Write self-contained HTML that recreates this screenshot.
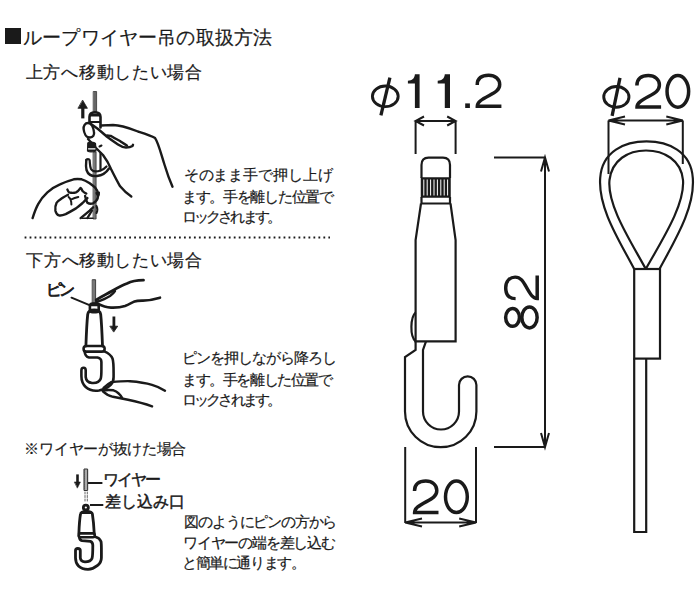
<!DOCTYPE html>
<html><head><meta charset="utf-8">
<style>
html,body{margin:0;padding:0;background:#fff;}
body{width:700px;height:600px;position:relative;overflow:hidden;font-family:"Liberation Sans",sans-serif;color:#1a1a1a;}
.t{position:absolute;white-space:nowrap;line-height:1;-webkit-text-stroke:0.2px #1a1a1a;}
.n{position:absolute;white-space:nowrap;line-height:1;font-family:"Liberation Sans",sans-serif;color:#1a1a1a;}
svg{position:absolute;left:0;top:0;}
</style></head><body>
<div style="position:absolute;left:5px;top:28px;width:16px;height:16px;background:#1a1a1a"></div>
<div class="t" style="left:23.0px;top:29.0px;font-size:18.6px;letter-spacing:0.17px">ループワイヤー吊の取扱方法</div>
<div class="t" style="left:25.8px;top:64.0px;font-size:17.2px;letter-spacing:0.69px">上方へ移動したい場合</div>
<div class="t" style="left:183.7px;top:168.2px;font-size:14.8px;letter-spacing:-0.11px">そのまま手で押し上げ</div>
<div class="t" style="left:182.1px;top:189.7px;font-size:14.8px;letter-spacing:-1.32px">ます。手を離した位置で</div>
<div class="t" style="left:182.0px;top:210.3px;font-size:14.8px;letter-spacing:-2.9px">ロックされます。</div>
<div class="t" style="left:26.3px;top:252.0px;font-size:17.2px;letter-spacing:0.63px">下方へ移動したい場合</div>
<div class="t" style="left:46px;top:281.5px;font-size:16px;letter-spacing:-2.8px;-webkit-text-stroke:0.8px #1a1a1a">ピン</div>
<div class="t" style="left:181.7px;top:351.0px;font-size:14.8px;letter-spacing:-0.97px">ピンを押しながら降ろし</div>
<div class="t" style="left:182.0px;top:372.9px;font-size:14.8px;letter-spacing:-1.39px">ます。手を離した位置で</div>
<div class="t" style="left:182.0px;top:393.0px;font-size:14.8px;letter-spacing:-2.86px">ロックされます。</div>
<div class="t" style="left:24.4px;top:442.3px;font-size:14.8px;letter-spacing:-0.29px">※ワイヤーが抜けた場合</div>
<div class="t" style="left:102.6px;top:472.4px;font-size:15.5px;letter-spacing:-1.73px;-webkit-text-stroke:0.45px #1a1a1a">ワイヤー</div>
<div class="t" style="left:105.4px;top:494.0px;font-size:15.5px;letter-spacing:-0.18px;-webkit-text-stroke:0.45px #1a1a1a">差し込み口</div>
<div class="t" style="left:184.2px;top:514.9px;font-size:14.8px;letter-spacing:-1.17px">図のようにピンの方から</div>
<div class="t" style="left:183.0px;top:536.1px;font-size:14.8px;letter-spacing:-1.19px">ワイヤーの端を差し込む</div>
<div class="t" style="left:182.0px;top:556.0px;font-size:14.8px;letter-spacing:-1.4px">と簡単に通ります。</div>
<svg width="700" height="600" viewBox="0 0 700 600">
<g fill="none" stroke="#1a1a1a" stroke-width="2.2" stroke-linejoin="miter">
<line x1="24.6" y1="237.5" x2="330" y2="237.5" stroke-width="1.8" stroke-dasharray="1.8 3.18"/>
<!-- phi symbols -->
<ellipse cx="385.3" cy="96.3" rx="12.9" ry="10.3" stroke-width="2.9"/>
<line x1="389.9" y1="77.7" x2="380.9" y2="115.4" stroke-width="3.3"/>
<ellipse cx="616.35" cy="96.9" rx="12.6" ry="10.4" stroke-width="2.9"/>
<line x1="620" y1="77.9" x2="612.1" y2="115.8" stroke-width="3.3"/>
<!-- dim 11.2 -->
<path d="M415.6,154 V121 M455.6,154 V121 M415.6,121 H455.6 M424,116.5 L415.6,121 L424,125.5 M447.2,116.5 L455.6,121 L447.2,125.5" stroke-width="2"/>
<!-- dim 82 -->
<path d="M494,157.5 H545.5 M494,447 H545.5 M545,157.5 V447 M541,171.5 L545,157.5 L549,171.5 M541,433 L545,447 L549,433" stroke-width="2"/>
<!-- dim 20 bottom -->
<path d="M405.2,447 V523 M476,447 V523 M405.2,522.5 H476 M422,518.5 L405.2,522.5 L422,526.5 M459.2,518.5 L476,522.5 L459.2,526.5" stroke-width="2"/>
<!-- dim 20 top -->
<path d="M608.5,174 V120.5 M682.8,164 V120.5 M608.5,120.5 H682.8 M625,116.5 L608.5,120.5 L625,124.5 M666.3,116.5 L682.8,120.5 L666.3,124.5" stroke-width="2"/>
<!-- main hook -->
<path d="M421.5,178 V165 C421.5,160 424,157.6 428.5,157.6 H443 C447.5,157.6 450,160 450,165 V178"/>
<rect x="421.5" y="178" width="28.5" height="19" fill="#1a1a1a" stroke-width="1.5"/>
<path d="M423.8,179.5 V195.5 M427.2,179.5 V195.5 M430.6,179.5 V195.5 M434,179.5 V195.5 M437.4,179.5 V195.5 M440.8,179.5 V195.5 M444.2,179.5 V195.5 M447.6,179.5 V195.5" stroke="#fff" stroke-width="1"/>
<path d="M421.5,197 V203.5 H450 V197"/>
<path d="M421,203.5 L415.6,240 V341.4 H455.6 V240 L450.5,203.5"/>
<path d="M415.6,312.5 C410.5,317 409.5,336 415.6,341.4"/>
<path d="M415.6,341.4 V350 L405,357 V411.5 A35.7,35.7 0 0 0 476.4,411.5 V385 A8.7,8.7 0 0 0 459,385 V411.5 A18,18 0 0 1 423,411.5 V350 L426,341.4"/>
<!-- loop wire -->
<path d="M634.2,269 C619,240 598,208 600.2,178 C602,151 625,141.4 646.5,141.4 C668,141.4 691,151 692.8,178 C695,208 675,240 659.5,269"/>
<path d="M645.8,269 C630,240 607,205 609.5,180 C612,160 628,150.5 646,150.5 C664,150.5 681,160 683,180 C685,205 662,240 645.8,269"/>
<rect x="634.2" y="269" width="25.8" height="89.6"/>
<path d="M634.2,358.6 V532 H646.2 V358.6"/>
</g>
<!-- DIGITS --><g fill="none" stroke="#1a1a1a" stroke-width="3.5">
<!-- 11.2 -->
<path d="M7,0 H11.7 V33.7 H7 V9.1 H0 V6.4 C4.2,6.4 6.6,4.3 7,0 Z" transform="translate(407.9,74.3)" fill="#1a1a1a" stroke="none"/>
<path d="M7.1,0 H12.3 V33.7 H7.1 V9.1 H0 V6.4 C4.2,6.4 6.7,4.3 7.1,0 Z" transform="translate(437.7,74.3)" fill="#1a1a1a" stroke="none"/>
<rect x="465.2" y="103.4" width="4.7" height="4.6" fill="#1a1a1a" stroke="none"/>
<path d="M1.8,11.7 C1.8,4.4 6.4,1.8 13.2,1.8 C19.9,1.8 24.3,5.8 24.3,11.2 C24.3,16.7 19.9,19.2 13.9,22.4 C6.4,26.4 1.9,29 1.9,33.3 H26" transform="translate(475.4,73.5) scale(1,0.983)" stroke-linejoin="miter"/>
<!-- 20 top -->
<path d="M1.8,11.7 C1.8,4.4 6.4,1.8 13.2,1.8 C19.9,1.8 24.3,5.8 24.3,11.2 C24.3,16.7 19.9,19.2 13.9,22.4 C6.4,26.4 1.9,29 1.9,33.3 H26" transform="translate(635.1,73.8)"/>
<ellipse cx="677.85" cy="91.35" rx="10.8" ry="15.8"/>
<!-- 20 bottom -->
<path d="M1.8,11.7 C1.8,4.4 6.4,1.8 13.2,1.8 C19.9,1.8 24.3,5.8 24.3,11.2 C24.3,16.7 19.9,19.2 13.9,22.4 C6.4,26.4 1.9,29 1.9,33.3 H26" transform="translate(412.7,479.3) scale(0.992,0.996)"/>
<ellipse cx="456.4" cy="496.8" rx="10.9" ry="15.7"/>
<!-- 82 rotated -->
<g transform="translate(503.9,329.7) rotate(-90)">
<ellipse cx="12.3" cy="8.65" rx="8.95" ry="6.9"/>
<ellipse cx="12.3" cy="25.6" rx="10.5" ry="7.65"/>
<path d="M1.8,11.7 C1.8,4.4 6.4,1.8 13.2,1.8 C19.9,1.8 24.3,5.8 24.3,11.2 C24.3,16.7 19.9,19.2 13.9,22.4 C6.4,26.4 1.9,29 1.9,33.3 H26" transform="translate(29.3,0) scale(0.96,1)"/>
</g>
</g>
<!-- /DIGITS -->
<!-- ILLUS --><g fill="none" stroke="#1a1a1a" stroke-width="2.4" stroke-linecap="round" stroke-linejoin="round">
<!-- ===== Illustration 1 ===== -->
<rect x="93.6" y="91.5" width="3" height="21" fill="#666" stroke="#333" stroke-width="0.8"/>
<rect x="93.5" y="152" width="2.6" height="67" fill="#777" stroke="#333" stroke-width="0.8"/>
<line x1="82.8" y1="118.4" x2="82.8" y2="106" stroke-width="3.2" stroke-linecap="butt"/>
<polygon points="78.3,108.3 87.4,108.3 82.8,100.4" fill="#1a1a1a" stroke-width="0.8"/>
<!-- cap -->
<path d="M89.5,124 V117 Q89.5,112.2 95,112.2 Q100.5,112.2 100.5,117 V127.5" stroke-width="2.6"/>
<path d="M90.5,115 H99.5" stroke-width="3"/>
<path d="M90,122 H100" stroke-width="2"/>
<!-- upper thumb -->
<path d="M88,123 C85,123 83.4,126 83.6,129 C84,133 86,137.5 90,137.5 C93,137.5 94.5,135 94,132 C93.5,128 91.5,123 88,123 Z" fill="#fff" stroke-width="2.4"/>
<!-- index top contour -->
<path d="M101.5,125.5 C106,125.2 110,125 113,125 C117,125.2 120,125.8 123,126.5 C128,127.8 133,129.5 138,131.5 C146,134 151,135.5 155.1,138.1 C158.5,143 161,154 164.6,165 C167,173 170,181 172.5,186.7"/>
<!-- middle finger / nail -->
<path d="M91,124 C94,126 96,127.5 98,129 C101,131.5 104,134 106,136 C108,137.5 112,140.5 118,144.5 C121,146.5 124,147.5 126,147.5 C129,147.5 131,147 132.5,146 L133,144.8"/>
<path d="M107,135.5 C109,135.5 110,135.8 111,136 C114,138 117,139.5 120,141 C123,143 125,144.5 127,145.5"/>
<path d="M99.5,146.5 L101.5,145.5" stroke-width="2"/>
<!-- thumb lower diagonal -->
<path d="M88,139 C91,142 93.5,145 96,148 C99,151 101,153 103,155 C106,159 109,164 111,169 C114,175 117,181 120.1,186.3 C124,191 127.5,194 131.3,196.6"/>
<!-- hook clip -->
<path d="M87.8,143 C89,141.8 94,141.8 95.5,143.5 L96,151 C93,152 89,152 87.5,151 Z" fill="#1a1a1a" stroke-width="1.2"/>
<path d="M88.5,148.8 H95" stroke="#fff" stroke-width="1.2"/>
<!-- J hook -->
<path d="M86.3,160 C86,163 85.8,167 86.5,170 C88,174.5 92,176.5 97,176 C102,175.5 106,173 109,168.5" stroke-width="2.4"/>
<path d="M86.3,160 C86.6,158.8 89.2,158.8 89.6,160 C90,163 89.8,166.5 91,169 C92.5,171.5 96,172 100.5,170.5 C103,169.5 105,168.2 106.5,166.5" stroke-width="2.2"/>
<path d="M100.5,170.5 V153" stroke-width="2.2"/>
<!-- lower hand outer contour -->
<path d="M32.6,218.1 C34.5,212 36,208 38.3,203.9 C41,199 44,195.5 47.4,192.4 C51,189 55,186.5 60,184.4 C65,182 69,180.5 73.7,179.3 C76,179 79,179 81.7,179.3 C84.5,180 87,181.5 89.7,183.3 C92,185 94,186.5 95.4,187.9 C97,189.8 98,191.5 98.3,193.6"/>
<!-- knuckle wavy -->
<path d="M67.4,189.6 C68,191 68.5,192 69.1,192.4 C71.5,193 74,193 76,192.4 C78,191.5 79.5,189.5 80.6,187.9 C81.5,188.5 82,189.8 82.3,190.7 C83.5,192 85,193 86.3,193.6"/>
<!-- thumb -->
<path d="M68,194.7 C65.5,196 64,197 62.3,198.1 C59.5,200 57.5,201 56.6,202.7 C55.2,205.5 55,208 55.4,210.7 C56,213 57.5,215 58.9,215.3 C61,215.8 63.5,215 65.7,214.1 C69,212.5 72.5,210.5 76,208.4 C78.5,206.5 80.8,204.5 82.9,202.7 C84.5,201 86,199.5 87.4,198.1"/>
<path d="M68.6,197 C69.8,198 70.6,199.2 70.9,200.4 C71.3,201.8 71.4,203 71.4,204.4" stroke-width="2"/>
<path d="M71.4,199.3 C73.5,198.3 76,197.5 78.3,197" stroke-width="2"/>
<!-- fingers around wire -->
<path d="M85.1,195.9 C85.5,198.5 86.2,201 87.4,202.7 C89,203.8 91,204 93.1,203.3 C95.5,202 97.2,200.5 97.7,198.1 C98,196 97.5,194.5 96.6,193"/>
<path d="M97.7,197.5 C99,196 99.3,194.5 99,192.5" stroke-width="2"/>
<!-- lower right -->
<path d="M80.6,218.1 C84,215.5 87,213 89.7,210.7 C91,209.5 92,208.3 93.1,207.3" stroke-width="2.4"/>
<path d="M87.4,218 C89,215.5 90.5,213 92,210.7" stroke-width="2.2"/>
<path d="M82,218.3 H93" stroke-width="1.6"/>
<path d="M96.5,206 C97.5,208 97.5,211 96.5,213" stroke-width="2"/>
<!-- ===== Illustration 2 ===== -->
<rect x="92.6" y="279.7" width="3" height="23" fill="#777" stroke="#333" stroke-width="0.9"/>
<path d="M71.5,297.7 L89.5,305.2" stroke-width="2"/>
<!-- index finger -->
<path d="M96.2,300 C102,296 107,294 112,291 C118,287.5 123,285 127,283.5 C131,281.5 136,280.3 143.5,280.2" stroke-width="2.8"/>
<path d="M96.2,302.2 C101,300.5 106,298.5 110,296 C112,294.5 114,292.5 115,291"/>
<path d="M97.7,303.7 C102,306 106,307.5 111,307.6 C117,307.8 121,307.3 125,306 C129,304.5 132,302.5 134.5,301.5 C137,300.5 140,300.6 143,300.6 C148,300.5 154,299.5 160,297.7" stroke-width="2.6"/>
<!-- pin nub -->
<rect x="89.9" y="303.5" width="8.8" height="8.8" rx="2.8" stroke-width="2.6"/>
<path d="M90.5,305 H98" stroke-width="2.4"/>
<!-- body -->
<path d="M85.9,346 C86.3,335 86.9,322 87.7,314.5 C88.1,311 90,310 94.2,310 C98.4,310 100.3,311 100.7,314.5 C101.5,322 102.1,335 102.5,346" stroke-width="2.8"/>
<!-- band -->
<rect x="83.6" y="346" width="21" height="5.6" rx="2.6" stroke-width="2.6"/>
<!-- arrow down -->
<line x1="113.9" y1="316.5" x2="113.9" y2="327" stroke-width="2.8" stroke-linecap="butt"/>
<polygon points="110.2,326.2 117.7,326.2 113.9,331.8" fill="#1a1a1a" stroke-width="0.8"/>
<!-- hook -->
<path d="M104.3,351.4 C108,353 111,355 112.5,358.5 C113.8,362 113.6,368 113.6,377 C113.6,381 112.5,383 111,384.5 C108,387.5 104,389.5 99,390.5 C94,391.2 89,390 85.7,387 C82,383.5 81.4,380 81.4,376 V370.5 C81.4,368.5 82.5,367.8 83.6,367.8 C84.8,367.8 85.7,368.8 85.7,370.5 V377 C86,380 88,382.6 92,383 C96,383.3 99.5,382 100.8,378.5 C101.5,376 101.4,372 101.4,368 V362 C101.4,359.5 100,358 97.5,357.5 H89 C86.5,357 85,355.5 84.6,351.4" stroke-width="2.6"/>
<!-- lower hand -->
<path d="M111.4,382.1 C118,381.5 124,381 130,381.2 C138,381.8 146,383 152,384.8 C157,386.2 161,388 165,390.7"/>
<path d="M102.9,390.7 C106,389.8 110,389.8 113.5,390.3 C117,391.5 120,394 122.1,397.9"/>
<path d="M102.9,391.4 C105,393.5 108,395.5 113,396.8 C119,398 124,399 128,399.8 C136,401.5 144,403.5 152.1,406.4"/>
<path d="M103.6,387.9 C106,385.5 108.5,383.5 111.4,382.1"/>

<!-- ===== Illustration 3 ===== -->
<line x1="77.5" y1="474.4" x2="77.5" y2="483" stroke-width="2.6" stroke-linecap="butt"/>
<polygon points="74.6,482 80.4,482 77.5,487.8" fill="#1a1a1a" stroke-width="0.6"/>
<rect x="84.4" y="469" width="3.2" height="21.5" fill="#aaa" stroke="#333" stroke-width="1"/>
<path d="M84.4,470 V490 M87.6,470 V490" stroke="#444" stroke-width="0.8" stroke-dasharray="1.2 0.8"/>
<path d="M85,492 V501 M87.3,492 V501" stroke="#666" stroke-width="1" stroke-dasharray="2 1.5"/>
<path d="M88,483 H102.4 M90,505 H103.3" stroke-width="2.2" stroke-linecap="butt"/>
<ellipse cx="85.85" cy="507.5" rx="2.5" ry="2.4" stroke-width="2.8"/>
<path d="M78.9,533 C79.2,525 79.8,518 80.5,514 C80.8,512 82,511.3 86.4,511.3 C90.8,511.3 92.1,512 92.4,514 C93,518 93.8,525 94.2,533" stroke-width="2.8"/>
<path d="M81,513 H92" stroke-width="1.8"/>
<rect x="78.6" y="533.4" width="16.2" height="3.8" rx="1.9" stroke-width="2.6"/>
<path d="M95.7,537 C98,537.5 100,539 101,541.5 C101.6,543.5 101.4,550 101.4,557.8 C101.4,561 100,563.5 97.6,565.4 C95,567.5 91.5,569.3 88,569.3 C84,569.3 80.5,568 78.5,566 C76,563.5 75.5,561 75.5,557.8 V550.6 C75.5,549.2 76.5,548.5 77.8,548.5 C79.2,548.5 80.3,549.4 80.3,550.6 V557.8 C80.5,560 82,561.6 85,561.8 C88,561.8 91,561 92,558.5 C92.8,556.5 92.8,550 92.8,545.3 C92.8,543 92,541.8 90.5,541.3 L82,540.6 C80.5,540.3 79.5,539 79.3,536.8" stroke-width="2.8"/>
</g>
<!-- /ILLUS -->
</svg>
</body></html>
